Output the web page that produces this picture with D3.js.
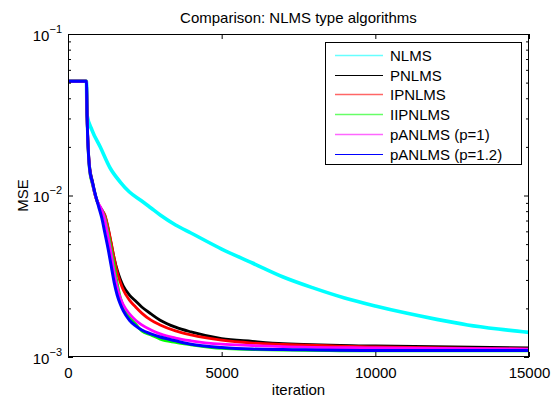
<!DOCTYPE html>
<html>
<head>
<meta charset="utf-8">
<script src="https://cdn.jsdelivr.net/npm/d3@7"></script>
<style>
  html, body { margin: 0; padding: 0; background: #fff; }
  svg { display: block; }
  text { font-family: "Liberation Sans", Arial, Helvetica, sans-serif; fill: #000; }
</style>
</head>
<body>
<div id="chart"></div>
<script>
// ---------------- data ----------------
const title = "Comparison: NLMS type algorithms";
const xLabel = "iteration";
const yLabel = "MSE";
const xTicks = [0, 5000, 10000, 15000];
const yMajorTicks = [1e-3, 1e-2, 1e-1];
const yTickExponents = ["−3", "−2", "−1"];
const seriesNames = ["NLMS", "PNLMS", "IPNLMS", "IIPNLMS", "pANLMS (p=1)", "pANLMS (p=1.2)"];
const seriesColors = ["#00ffff", "#000000", "#ff0000", "#00ff00", "#ff00ff", "#0000ff"];

// iterations at which the NLMS curve was read
const nlmsIter = [0, 600, 620, 780, 1050, 1370, 1700, 2000, 2400, 2700, 3000, 3500, 4000, 5000, 6000, 7000, 8000, 9000, 10000, 11000, 12000, 13000, 14000, 15000];
const nlms = [0.051, 0.051, 0.0315, 0.02544, 0.01996, 0.0148, 0.01212, 0.01051, 0.00925, 0.00837, 0.00757, 0.00657, 0.00586, 0.00466, 0.00382, 0.00313, 0.00267, 0.00232, 0.00207, 0.00187, 0.00171, 0.00158, 0.00149, 0.00142];

// iterations at which the proportionate-type curves were read
const iter = [0, 600, 620, 700, 800, 900, 1000, 1100, 1200, 1300, 1400, 1500, 1600, 1700, 1800, 2000, 2200, 2400, 2700, 3000, 3500, 4000, 5000, 6000, 7000, 10000, 15000];
const pnlms   = [0.051, 0.051, 0.0315, 0.01523, 0.01212, 0.00993, 0.00873, 0.00813, 0.00746, 0.00629, 0.00508, 0.00410, 0.00346, 0.00304, 0.00275, 0.00242, 0.00222, 0.00204, 0.00185, 0.00169, 0.00153, 0.00143, 0.00130, 0.00125, 0.00121, 0.00117, 0.001137];
const ipnlms  = [0.051, 0.051, 0.0315, 0.0148, 0.01178, 0.00979, 0.00873, 0.00813, 0.00757, 0.00638, 0.00515, 0.00410, 0.00336, 0.00291, 0.00260, 0.00225, 0.00204, 0.00187, 0.00169, 0.00158, 0.00145, 0.00137, 0.00127, 0.00122, 0.001195, 0.001153, 0.00112];
const iipnlms = [0.051, 0.051, 0.0315, 0.01438, 0.01161, 0.00979, 0.00873, 0.00813, 0.00726, 0.00594, 0.00473, 0.00371, 0.00287, 0.00235, 0.00207, 0.00177, 0.00160, 0.00145, 0.00137, 0.00129, 0.00123, 0.00119, 0.00113, 0.001113, 0.001105, 0.00109, 0.00109];
const panlms1 = [0.051, 0.051, 0.0315, 0.0148, 0.01178, 0.00979, 0.00886, 0.00813, 0.00705, 0.00561, 0.00441, 0.00336, 0.00271, 0.00232, 0.00210, 0.00185, 0.00169, 0.00158, 0.00147, 0.00139, 0.00131, 0.00126, 0.00120, 0.001178, 0.00116, 0.001137, 0.00112];
const panlms12 = [0.051, 0.051, 0.0315, 0.0148, 0.01195, 0.00993, 0.00849, 0.00726, 0.00586, 0.00473, 0.00371, 0.00291, 0.00242, 0.00213, 0.00193, 0.00169, 0.00156, 0.00147, 0.00139, 0.00133, 0.00126, 0.00120, 0.001145, 0.00112, 0.001113, 0.001097, 0.001097];

const seriesX = [nlmsIter, iter, iter, iter, iter, iter];
const seriesY = [nlms, pnlms, ipnlms, iipnlms, panlms1, panlms12];
const seriesWidth = [3.6, 2.8, 2.8, 2.8, 2.8, 3.0];

// ---------------- chart ----------------
const W = 551, H = 398;
const L = 68, R = 529, T = 34, B = 357;
const svg = d3.select("#chart").append("svg").attr("width", W).attr("height", H);

const x = d3.scaleLinear().domain([0, 15000]).range([L, R]);
const y = d3.scaleLog().domain([1e-3, 1e-1]).range([B, T]);

svg.append("defs").append("clipPath").attr("id", "clip")
  .append("rect").attr("x", L).attr("y", T).attr("width", R - L).attr("height", B - T);

// lines
const plot = svg.append("g").attr("clip-path", "url(#clip)");
seriesNames.forEach((name, i) => {
  const pts = seriesX[i].map((it, k) => [it, seriesY[i][k]]);
  const line = d3.line().x(d => x(d[0])).y(d => y(d[1])).curve(d3.curveMonotoneX);
  plot.append("path").datum(pts)
    .attr("fill", "none")
    .attr("stroke", seriesColors[i])
    .attr("stroke-width", seriesWidth[i])
    .attr("stroke-linejoin", "round")
    .attr("d", line);
});

// axes (MATLAB style: inward ticks, ticks on all sides)
const fs = 15;
const xAxisB = d3.axisBottom(x).tickValues(xTicks).tickSize(-5).tickSizeOuter(0).tickPadding(10).tickFormat(d3.format("d"));
const gxb = svg.append("g").attr("transform", `translate(0,${B})`).call(xAxisB);
gxb.select(".domain").remove();
gxb.selectAll("text").attr("font-size", fs).attr("font-family", "Liberation Sans, Arial, sans-serif").attr("dy", "0.71em").attr("y", 10);
const gxt = svg.append("g").attr("transform", `translate(0,${T})`).call(d3.axisTop(x).tickValues(xTicks).tickSize(-5).tickSizeOuter(0).tickFormat(""));
gxt.select(".domain").remove();

const minor = [];
[1e-3, 1e-2].forEach(dec => { for (let m = 2; m <= 9; m++) minor.push(m * dec); });
const gyl = svg.append("g").attr("transform", `translate(${L},0)`).call(d3.axisLeft(y).tickValues(minor).tickSize(-3).tickSizeOuter(0).tickFormat(""));
gyl.select(".domain").remove();
const gyr = svg.append("g").attr("transform", `translate(${R},0)`).call(d3.axisRight(y).tickValues(minor).tickSize(-3).tickSizeOuter(0).tickFormat(""));
gyr.select(".domain").remove();
const gylM = svg.append("g").attr("transform", `translate(${L},0)`).call(d3.axisLeft(y).tickValues(yMajorTicks).tickSize(-5).tickSizeOuter(0).tickFormat(""));
gylM.select(".domain").remove();
const gyrM = svg.append("g").attr("transform", `translate(${R},0)`).call(d3.axisRight(y).tickValues(yMajorTicks).tickSize(-5).tickSizeOuter(0).tickFormat(""));
gyrM.select(".domain").remove();
svg.selectAll(".tick line").attr("stroke", "#000");

// y tick labels 10^n
yMajorTicks.forEach((v, i) => {
  const t = svg.append("text")
    .attr("x", L - 6).attr("y", y(v) + 6.5)
    .attr("text-anchor", "end").attr("font-size", fs);
  t.append("tspan").text("10");
  t.append("tspan").attr("dy", -8).attr("font-size", 11).text(yTickExponents[i]);
});

// axes box
svg.append("rect").attr("x", L + 0.5).attr("y", T + 0.5).attr("width", R - L - 1).attr("height", B - T - 1)
  .attr("fill", "none").attr("stroke", "#000").attr("stroke-width", 1);

// title and labels
svg.append("text").attr("x", (L + R) / 2).attr("y", 23).attr("text-anchor", "middle").attr("font-size", fs).text(title);
svg.append("text").attr("x", (L + R) / 2).attr("y", 395).attr("text-anchor", "middle").attr("font-size", fs).text(xLabel);
svg.append("text").attr("transform", `translate(28,${(T + B) / 2}) rotate(-90)`).attr("text-anchor", "middle").attr("font-size", fs).text(yLabel);

// legend
const lg = svg.append("g");
lg.append("rect").attr("x", 325.5).attr("y", 42.5).attr("width", 196).attr("height", 122)
  .attr("fill", "#fff").attr("stroke", "#000").attr("stroke-width", 1);
seriesNames.forEach((name, i) => {
  const cy = Math.round(55 + i * 19.7) + 0.5;
  lg.append("line").attr("x1", 335).attr("x2", 383).attr("y1", cy).attr("y2", cy)
    .attr("stroke", seriesColors[i]).attr("stroke-width", i === 1 || i === 5 ? 1 : 1.5)
    .attr("stroke-opacity", i === 1 || i === 5 ? 1 : 0.6);
  lg.append("text").attr("x", 390).attr("y", cy + 5).attr("font-size", fs).text(name);
});
</script>
</body>
</html>
